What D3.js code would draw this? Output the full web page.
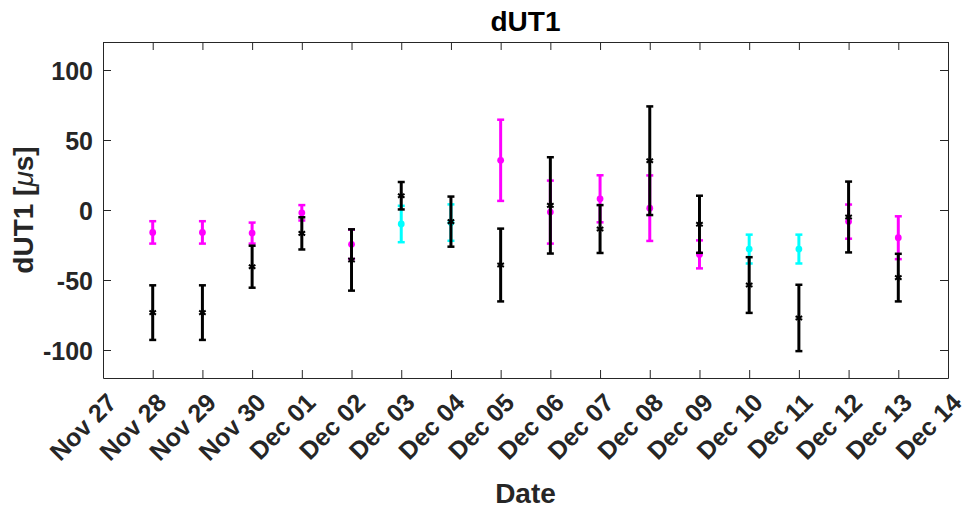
<!DOCTYPE html>
<html lang="en">
<head>
  <meta charset="UTF-8">
  <title>dUT1</title>
  <style>
    html, body { margin: 0; background: #fff; }
    svg { display: block; font-family: "Liberation Sans", Arial, sans-serif; }
  </style>
</head>
<body>
  <svg id="chart" width="967" height="508"></svg>
  <script src="https://cdn.jsdelivr.net/npm/d3@7"></script>
  <script>
    // observation days (Nov 28 .. Dec 13)
    var days = ['2023-11-28', '2023-11-29', '2023-11-30', '2023-12-01', '2023-12-02', '2023-12-03',
      '2023-12-04', '2023-12-05', '2023-12-06', '2023-12-07', '2023-12-08', '2023-12-09',
      '2023-12-10', '2023-12-11', '2023-12-12', '2023-12-13']

    // coloured series (magenta / cyan)
    var colVal = [-16, -16, -16.5, -2, -24.5, -10, -9, 35.5, -1.5, 8, 1.3, -31.7, -27.9, -27.9, -8.3, -19.8]
    var colErr = [8, 8, 7.5, 5.5, 10.5, 13, 13, 29, 22.5, 16.8, 23.4, 10, 10.3, 10.3, 12.2, 15.3]
    var colKind = ['m', 'm', 'm', 'm', 'm', 'c', 'c', 'm', 'm', 'm', 'm', 'm', 'c', 'c', 'm', 'm']

    // black series
    var blkVal = [-73.3, -73.3, -40.5, -16.7, -35.7, 10.2, -8.3, -39.3, 3.3, -13.6, 35.2, -10.2, -53.6, -77.1, -5, -48.3]
    var blkErr = [19.5, 19.5, 15, 11.5, 21.9, 9.8, 17.9, 26, 34.4, 17.1, 38.8, 20.4, 19.9, 23.7, 25.3, 17]

    var yTicks = [-100, -50, 0, 50, 100]

    var parse = d3.utcParse('%Y-%m-%d')
    var colors = { m: '#ff00ff', c: '#00ffff' }

    var margin = { left: 103, right: 19, top: 42, bottom: 130 }
    var width = 967, height = 508
    var svg = d3.select('#chart')

    var x = d3.scaleUtc()
      .domain([parse('2023-11-27'), parse('2023-12-14')])
      .range([margin.left, width - margin.right])
    var y = d3.scaleLinear()
      .domain([-120, 120])
      .range([height - margin.bottom, margin.top])

    var axisColor = '#262626'
    var tickLen = 8
    var dayTicks = d3.utcDay.range(x.domain()[0], d3.utcDay.offset(x.domain()[1], 1))

    // axes (ticks inside, box on)
    var xb = svg.append('g')
      .attr('transform', `translate(0,${y.range()[0]})`)
      .call(d3.axisBottom(x).tickValues(dayTicks).tickSizeInner(-tickLen).tickSizeOuter(0).tickFormat(''))
    var xt = svg.append('g')
      .attr('transform', `translate(0,${y.range()[1]})`)
      .call(d3.axisTop(x).tickValues(dayTicks).tickSizeInner(-tickLen).tickSizeOuter(0).tickFormat(''))
    var yl = svg.append('g')
      .attr('transform', `translate(${x.range()[0]},0)`)
      .call(d3.axisLeft(y).tickValues(yTicks).tickSizeInner(-tickLen).tickSizeOuter(0).tickPadding(10)
        .tickFormat(d => String(d)))
    var yr = svg.append('g')
      .attr('transform', `translate(${x.range()[1]},0)`)
      .call(d3.axisRight(y).tickValues(yTicks).tickSizeInner(-tickLen).tickSizeOuter(0).tickFormat(''))

    ;[xb, xt, yl, yr].forEach(g => {
      g.selectAll('path, line').attr('stroke', axisColor).attr('stroke-width', 1)
    })
    yl.selectAll('text')
      .attr('fill', axisColor)
      .attr('font-size', 25)
      .attr('font-weight', 'bold')
      .attr('dy', '0.36em')

    // rotated date labels
    var fmt = d3.utcFormat('%b %d')
    svg.append('g')
      .selectAll('text')
      .data(dayTicks)
      .join('text')
      .attr('transform', d => `translate(${x(d) + 9},${y.range()[0] + 20}) rotate(-45)`)
      .attr('text-anchor', 'end')
      .attr('dy', '0.35em')
      .attr('font-size', 25)
      .attr('font-weight', 'bold')
      .attr('fill', axisColor)
      .text(d => fmt(d))

    // error bars
    function drawSeries(vals, errs, colorOf, marker) {
      var g = svg.append('g')
      var pts = g.selectAll('g')
        .data(days.map((d, i) => ({ date: parse(d), v: vals[i], e: errs[i], i: i })))
        .join('g')
        .attr('stroke', d => colorOf(d.i))
        .attr('fill', d => colorOf(d.i))
      pts.append('line')
        .attr('x1', d => x(d.date)).attr('x2', d => x(d.date))
        .attr('y1', d => y(d.v - d.e)).attr('y2', d => y(d.v + d.e))
        .attr('stroke-width', 3)
      ;[-1, 1].forEach(s => {
        pts.append('line')
          .attr('x1', d => x(d.date) - 3.5).attr('x2', d => x(d.date) + 3.5)
          .attr('y1', d => y(d.v + s * d.e)).attr('y2', d => y(d.v + s * d.e))
          .attr('stroke-width', 2.5)
      })
      if (marker === 'circle') {
        pts.append('circle')
          .attr('cx', d => x(d.date)).attr('cy', d => y(d.v))
          .attr('r', 3.4)
          .attr('stroke', 'none')
      } else {
        pts.append('path')
          .attr('transform', d => `translate(${x(d.date)},${y(d.v)})`)
          .attr('d', d3.symbol(d3.symbolAsterisk, 40)())
          .attr('fill', 'none')
          .attr('stroke-width', 2)
      }
    }

    drawSeries(colVal, colErr, i => colors[colKind[i]], 'circle')
    drawSeries(blkVal, blkErr, i => '#000', 'star')

    // labels
    svg.append('text')
      .attr('x', (x.range()[0] + x.range()[1]) / 2)
      .attr('y', 31)
      .attr('text-anchor', 'middle')
      .attr('font-size', 28)
      .attr('font-weight', 'bold')
      .attr('fill', '#000')
      .text('dUT1')

    svg.append('text')
      .attr('x', (x.range()[0] + x.range()[1]) / 2)
      .attr('y', 503)
      .attr('text-anchor', 'middle')
      .attr('font-size', 28)
      .attr('font-weight', 'bold')
      .attr('fill', axisColor)
      .text('Date')

    var yLab = svg.append('text')
      .attr('transform', `translate(33,${(y.range()[0] + y.range()[1]) / 2}) rotate(-90)`)
      .attr('text-anchor', 'middle')
      .attr('font-size', 28)
      .attr('font-weight', 'bold')
      .attr('fill', axisColor)
    yLab.append('tspan').text('dUT1 [')
    yLab.append('tspan').attr('font-style', 'italic').attr('font-weight', 'normal').text('\u03bc')
    yLab.append('tspan').text('s]')
  </script>
</body>
</html>
